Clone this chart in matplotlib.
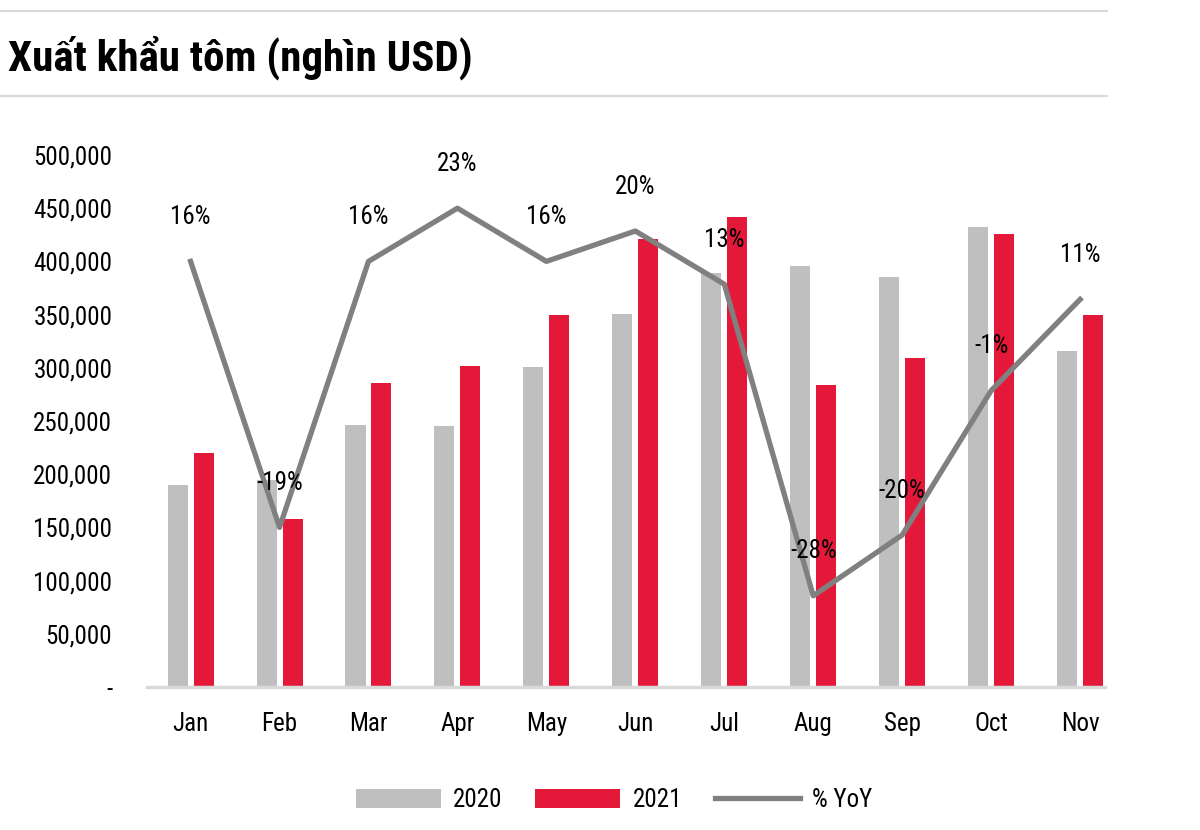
import numpy as np
import matplotlib.pyplot as plt
from matplotlib.lines import Line2D
from matplotlib.ticker import FuncFormatter

plt.rcParams['font.family'] = ['Roboto Condensed', 'DejaVu Sans']

months = ["Jan", "Feb", "Mar", "Apr", "May", "Jun", "Jul", "Aug", "Sep", "Oct", "Nov"]
exp_2020 = [190000, 195000, 246000, 245000, 301000, 351000, 389000, 396000, 385000, 432000, 316000]
exp_2021 = [220000, 158000, 286000, 302000, 350000, 421000, 442000, 284000, 309000, 426000, 350000]
yoy = [0.16, -0.19, 0.16, 0.23, 0.16, 0.20, 0.13, -0.28, -0.20, -0.01, 0.11]
yoy_labels = ["16%", "-19%", "16%", "23%", "16%", "20%", "13%", "-28%", "-20%", "-1%", "11%"]

fig = plt.figure(figsize=(12, 8.3), dpi=100)
ax = fig.add_axes([147/1200, 143/830, 958/1200, 532/830])

x = np.arange(len(months))
w = 0.225
ax.bar(x - 0.146, exp_2020, w, color="#BFBFBF", label="2020", zorder=2)
ax.bar(x + 0.146, exp_2021, w, color="#E4193A", label="2021", zorder=2)

ax.set_xlim(-0.49, 10.28)
ax.set_ylim(0, 500000)
ax.set_yticks(np.arange(0, 500001, 50000))
ax.yaxis.set_major_formatter(FuncFormatter(lambda v, p: "-" if v == 0 else f"{int(v):,}"))
ax.set_xticks(x)
ax.set_xticklabels(months)
ax.tick_params(axis="both", length=0, labelsize=18)
ax.tick_params(axis="y", pad=25)
ax.tick_params(axis="x", pad=18)
for s in ["top", "right", "left"]:
    ax.spines[s].set_visible(False)
ax.spines["bottom"].set_color("#D9D9D9")
ax.spines["bottom"].set_linewidth(2.5)

ax2 = ax.twinx()
ax2.plot(x, yoy, color="#808080", lw=3.8, label="% YoY", zorder=3)
ax2.set_ylim(-0.40, 0.30)
ax2.set_yticks([])
for s in ax2.spines.values():
    s.set_visible(False)
for i, t in enumerate(yoy_labels):
    ax2.annotate(t, (x[i], yoy[i]), xytext=(0, 32), textcoords="offset points",
                 ha="center", va="center", fontsize=18)

h1, l1 = ax.get_legend_handles_labels()
h2, l2 = ax2.get_legend_handles_labels()
fig.legend(h1 + h2, l1 + l2, loc="center", bbox_to_anchor=(614/1200, 1 - 800/830),
           ncol=3, frameon=False, fontsize=18, handlelength=3.4, handleheight=0.8,
           columnspacing=1.3, handletextpad=0.5)

fig.text(8/1200, 1 - 58/830, "Xuất khẩu tôm (nghìn USD)", fontsize=31, fontweight="bold",
         va="center", ha="left")
fig.add_artist(Line2D([0, 1107/1200], [1 - 11/830] * 2, color="#D9D9D9", lw=1.5))
fig.add_artist(Line2D([0, 1107/1200], [1 - 96/830] * 2, color="#D9D9D9", lw=1.5))

fig.savefig("out.png", dpi=100)
